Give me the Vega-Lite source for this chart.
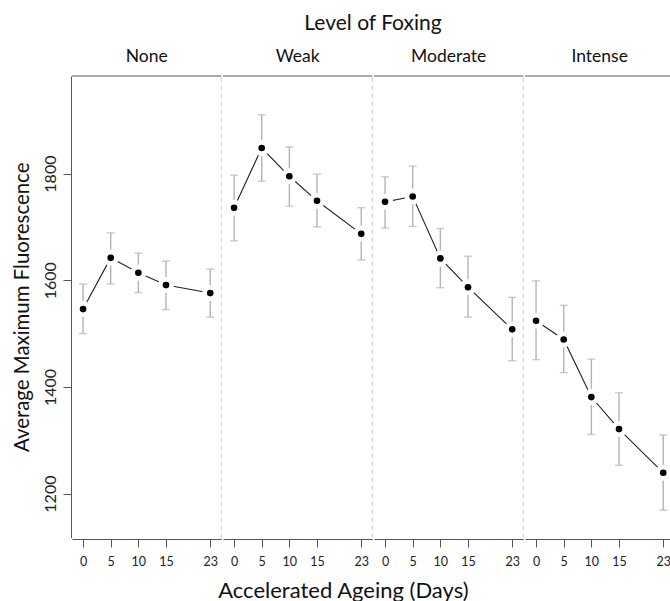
{
  "$schema": "https://vega.github.io/schema/vega-lite/v6.json",
  "padding": {"left": 12, "top": 13, "right": 0, "bottom": 0},
  "background": "white",
  "title": {"text": "Accelerated Ageing (Days)", "orient": "bottom", "fontSize": 22, "fontWeight": "normal", "color": "#111", "anchor": "middle", "offset": 13},
  "data": {"values": [
    {"level": "None", "day": 0, "mean": 1546, "lo": 1500, "hi": 1593},
    {"level": "None", "day": 5, "mean": 1642, "lo": 1593, "hi": 1689},
    {"level": "None", "day": 10, "mean": 1614, "lo": 1577, "hi": 1651},
    {"level": "None", "day": 15, "mean": 1591, "lo": 1545, "hi": 1636},
    {"level": "None", "day": 23, "mean": 1576, "lo": 1531, "hi": 1621},
    {"level": "Weak", "day": 0, "mean": 1736, "lo": 1674, "hi": 1797},
    {"level": "Weak", "day": 5, "mean": 1848, "lo": 1786, "hi": 1910},
    {"level": "Weak", "day": 10, "mean": 1795, "lo": 1739, "hi": 1850},
    {"level": "Weak", "day": 15, "mean": 1749, "lo": 1700, "hi": 1799},
    {"level": "Weak", "day": 23, "mean": 1687, "lo": 1638, "hi": 1736},
    {"level": "Moderate", "day": 0, "mean": 1747, "lo": 1698, "hi": 1794},
    {"level": "Moderate", "day": 5, "mean": 1757, "lo": 1701, "hi": 1814},
    {"level": "Moderate", "day": 10, "mean": 1641, "lo": 1586, "hi": 1697},
    {"level": "Moderate", "day": 15, "mean": 1587, "lo": 1531, "hi": 1645},
    {"level": "Moderate", "day": 23, "mean": 1508, "lo": 1449, "hi": 1568},
    {"level": "Intense", "day": 0, "mean": 1524, "lo": 1451, "hi": 1599},
    {"level": "Intense", "day": 5, "mean": 1489, "lo": 1427, "hi": 1553},
    {"level": "Intense", "day": 10, "mean": 1381, "lo": 1311, "hi": 1452},
    {"level": "Intense", "day": 15, "mean": 1321, "lo": 1253, "hi": 1389},
    {"level": "Intense", "day": 23, "mean": 1239, "lo": 1169, "hi": 1310}
  ]},
  "facet": {"column": {"field": "level", "type": "nominal", "sort": ["None", "Weak", "Moderate", "Intense"], "title": "Level of Foxing"}},
  "spacing": 0,
  "spec": {
    "width": 149.3,
    "height": 461.6,
    "layer": [
      {
        "mark": {"type": "rule", "color": "#b4b4b4", "strokeWidth": 1.4},
        "encoding": {
          "x": {"field": "day", "type": "quantitative", "scale": {"domain": [-2, 25], "nice": false, "zero": false},
                "axis": {"values": [0, 5, 10, 15, 23], "tickCount": 10, "title": null, "labelOverlap": false}},
          "y": {"field": "lo", "type": "quantitative", "scale": {"domain": [1117.5, 1983], "nice": false, "zero": false},
                "axis": {"values": [1200, 1400, 1600, 1800], "tickCount": 10, "format": "d", "title": "Average Maximum Fluorescence"}},
          "y2": {"field": "hi"}
        }
      },
      {
        "transform": [{"aggregate": [{"op": "count", "as": "n"}], "groupby": ["level"]}],
        "mark": {"type": "rule", "color": "#555", "strokeWidth": 1},
        "encoding": {"x": {"datum": -2, "type": "quantitative"}, "x2": {"datum": 25}, "y": {"datum": 1983, "type": "quantitative"}}
      },
      {
        "transform": [{"filter": "datum.level !== 'Intense'"}, {"aggregate": [{"op": "count", "as": "n"}], "groupby": ["level"]}],
        "mark": {"type": "rule", "color": "#c8c8c8", "strokeWidth": 1, "strokeDash": [4, 4]},
        "encoding": {"x": {"datum": 25, "type": "quantitative"}, "y": {"datum": 1117.5, "type": "quantitative"}, "y2": {"datum": 1983}}
      },
      {
        "transform": [{"filter": "datum.level === 'Intense'"}, {"aggregate": [{"op": "count", "as": "n"}], "groupby": ["level"]}],
        "mark": {"type": "rule", "color": "#555", "strokeWidth": 1},
        "encoding": {"x": {"datum": 25, "type": "quantitative"}, "y": {"datum": 1117.5, "type": "quantitative"}, "y2": {"datum": 1983}}
      },
      {
        "mark": {"type": "tick", "orient": "horizontal", "size": 8, "thickness": 1.4, "color": "#b4b4b4"},
        "encoding": {"x": {"field": "day", "type": "quantitative"}, "y": {"field": "lo", "type": "quantitative"}}
      },
      {
        "mark": {"type": "tick", "orient": "horizontal", "size": 8, "thickness": 1.4, "color": "#b4b4b4"},
        "encoding": {"x": {"field": "day", "type": "quantitative"}, "y": {"field": "hi", "type": "quantitative"}}
      },
      {
        "mark": {"type": "line", "color": "#222", "strokeWidth": 1.1},
        "encoding": {"x": {"field": "day", "type": "quantitative"}, "y": {"field": "mean", "type": "quantitative"}}
      },
      {
        "mark": {"type": "point", "shape": "circle", "filled": true, "color": "white", "opacity": 1, "size": 256},
        "encoding": {"x": {"field": "day", "type": "quantitative"}, "y": {"field": "mean", "type": "quantitative"}}
      },
      {
        "mark": {"type": "point", "shape": "circle", "filled": true, "color": "black", "opacity": 1, "size": 44},
        "encoding": {"x": {"field": "day", "type": "quantitative"}, "y": {"field": "mean", "type": "quantitative"}}
      }
    ]
  },
  "config": {
    "font": "Lato",
    "view": {"stroke": null},
    "axis": {"grid": false, "domainColor": "#555", "tickColor": "#555", "labelColor": "#222", "titleColor": "#111", "tickSize": 8, "titleFontWeight": "normal"},
    "axisX": {"labelFontSize": 12.5, "labelPadding": 8, "labelOverlap": false, "labelBound": false, "labelFlush": false},
    "axisY": {"labelFontSize": 16, "labelAngle": -90, "labelAlign": "center", "labelBaseline": "alphabetic", "labelPadding": 8, "titleFontSize": 20.4, "titlePadding": 10},
    "header": {"titleFontSize": 21, "titleFontWeight": "normal", "titleColor": "#111", "labelFontSize": 17.5, "labelColor": "#111", "labelPadding": 10, "titlePadding": 3}
  }
}
